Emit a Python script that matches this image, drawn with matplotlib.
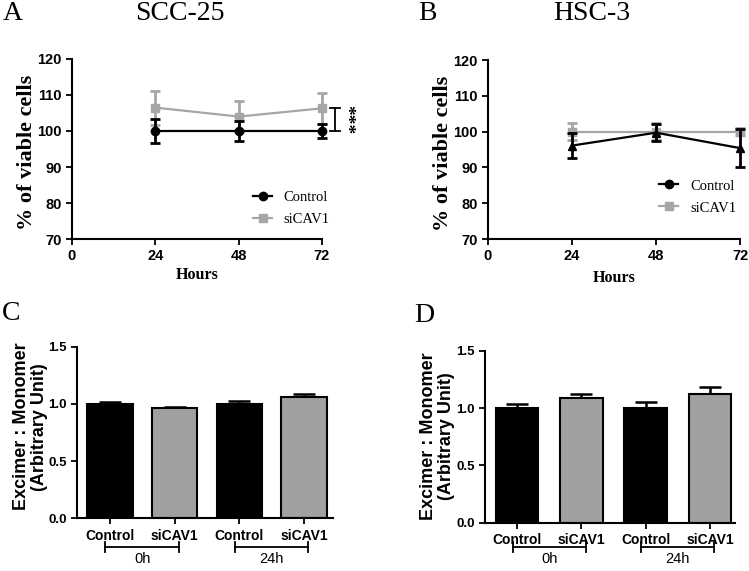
import matplotlib
matplotlib.use("Agg")
import matplotlib.pyplot as plt
from matplotlib.lines import Line2D

# ---------------- data ----------------
hours = [24, 48, 72]
x_ticks_hours = [0, 24, 48, 72]
y_ticks_viab = [70, 80, 90, 100, 110, 120]

scc_control = [100.0, 100.0, 100.0]
scc_control_err = [3.3, 2.7, 1.9]
scc_sicav1 = [106.5, 104.0, 106.3]
scc_sicav1_err = [4.7, 4.2, 4.3]

hsc_control = [96.1, 99.7, 95.4]
hsc_control_err = [3.4, 2.3, 5.3]
hsc_sicav1 = [100.0, 100.0, 100.0]
hsc_sicav1_err = [2.3, 2.3, 1.0]

bar_labels = ["Control", "siCAV1", "Control", "siCAV1"]
group_labels = ["0h", "24h"]
y_ticks_ratio = [0.0, 0.5, 1.0, 1.5]

c_values = [1.00, 0.962, 1.00, 1.063]
c_err = [0.014, 0.014, 0.028, 0.026]
d_values = [1.00, 1.088, 1.00, 1.126]
d_err = [0.038, 0.038, 0.053, 0.059]

BLACK = "#000000"
GRAY = "#a6a6a6"
BARGRAY = "#a0a0a0"
SERIF = "Liberation Serif"
SANS = "Liberation Sans"

fig = plt.figure(figsize=(7.49, 5.71), dpi=100)

def style_axes(ax):
    for s in ["top", "right"]:
        ax.spines[s].set_visible(False)
    for s in ["left", "bottom"]:
        ax.spines[s].set_linewidth(1.5)
    ax.tick_params(direction="out", width=1.3, length=4)
    for lab in ax.get_xticklabels() + ax.get_yticklabels():
        lab.set_fontfamily(SANS)
        lab.set_fontweight("bold")

def line_panel(ax, ctrl, ctrl_err, sic, sic_err, ctrl_marker, legend_pos, ylab_x, xlab_y):
    ax.errorbar(hours, sic, yerr=sic_err, color=GRAY, marker="s", markersize=6,
                lw=1.6, elinewidth=2, capsize=3.5, capthick=2, clip_on=False, zorder=2)
    ax.errorbar(hours, ctrl, yerr=ctrl_err, color=BLACK, marker=ctrl_marker, markersize=6,
                lw=1.6, elinewidth=2, capsize=3.5, capthick=2, clip_on=False, zorder=3)
    ax.set_xlim(0, 72)
    ax.set_ylim(70, 120)
    ax.set_xticks(x_ticks_hours)
    ax.set_yticks(y_ticks_viab)
    ax.tick_params(labelsize=10.5)
    style_axes(ax)
    ax.set_ylabel("% of viable cells", fontfamily=SERIF, fontweight="bold", fontsize=16)
    ax.yaxis.set_label_coords(ylab_x, 0.48)
    ax.set_xlabel("Hours", fontfamily=SERIF, fontweight="bold", fontsize=11.5)
    ax.xaxis.set_label_coords(0.5, xlab_y)
    handles = [Line2D([], [], color=BLACK, marker="o", markersize=6, lw=1.6),
               Line2D([], [], color=GRAY, marker="s", markersize=6, lw=1.6)]
    ax.legend(handles, ["Control", "siCAV1"], loc="center left", bbox_to_anchor=legend_pos,
              frameon=False, handlelength=1.3, handletextpad=0.8, labelspacing=0.6,
              borderpad=0, borderaxespad=0, prop={"family": SERIF, "size": 10.5})

# Panel A
axA = fig.add_axes([0.0961, 0.5814, 0.3338, 0.3153])
line_panel(axA, scc_control, scc_control_err, scc_sicav1, scc_sicav1_err, "o",
           (0.725, 0.17), -0.138, -0.155)
# significance bracket
xb = 75.8
axA.plot([xb, xb], [scc_control[-1], scc_sicav1[-1]], color=BLACK, lw=1.3, clip_on=False)
axA.plot([xb - 1.4, xb + 1.4], [scc_control[-1], scc_control[-1]], color=BLACK, lw=1.3, clip_on=False)
axA.plot([xb - 1.4, xb + 1.4], [scc_sicav1[-1], scc_sicav1[-1]], color=BLACK, lw=1.3, clip_on=False)
axA.text(xb + 3.0, (scc_control[-1] + scc_sicav1[-1]) / 2, "***", rotation=-90,
         ha="center", va="center", fontsize=14, fontfamily=SERIF, fontweight="bold")

# Panel B
axB = fig.add_axes([0.6515, 0.5814, 0.3365, 0.3135])
line_panel(axB, hsc_control, hsc_control_err, hsc_sicav1, hsc_sicav1_err, "^",
           (0.68, 0.235), -0.14, -0.173)

def bar_panel(ax, vals, errs, width, xlim, ylab_x, ylab_y, lab_pad, br_y, grp_y):
    xs = list(range(len(vals)))
    colors = [BLACK, BARGRAY, BLACK, BARGRAY]
    ax.bar(xs, vals, width=width, color=colors, edgecolor=BLACK, linewidth=1.5, zorder=2)
    ax.errorbar(xs, vals, yerr=[[0] * len(errs), errs], fmt="none", ecolor=BLACK,
                elinewidth=1.8, capsize=8, capthick=1.8, zorder=1)
    ax.set_xlim(*xlim)
    ax.set_ylim(0, 1.5)
    ax.set_yticks(y_ticks_ratio)
    ax.set_yticklabels([f"{v:.1f}" for v in y_ticks_ratio])
    ax.set_xticks(xs)
    ax.set_xticklabels(bar_labels)
    ax.tick_params(axis="x", length=0, pad=lab_pad, labelsize=10)
    ax.tick_params(axis="y", labelsize=9.5)
    style_axes(ax)
    ax.set_ylabel("Excimer : Monomer\n(Arbitrary Unit)", fontfamily=SANS, fontweight="bold",
                  fontsize=13, linespacing=1.05)
    ax.yaxis.set_label_coords(ylab_x, ylab_y)
    tr = ax.get_xaxis_transform()
    for g, (x0, x1) in enumerate([(-0.07, 1.07), (1.93, 3.07)]):
        ax.plot([x0, x1], [br_y, br_y], color=BLACK, lw=1.3, transform=tr, clip_on=False)
        for xe in (x0, x1):
            ax.plot([xe, xe], [br_y - 0.03, br_y + 0.03], color=BLACK, lw=1.3,
                    transform=tr, clip_on=False)
        ax.text((x0 + x1) / 2, grp_y, group_labels[g], transform=tr, ha="center", va="top",
                fontfamily=SANS, fontsize=10.5)

# Panel C
axC = fig.add_axes([0.1028, 0.0923, 0.3418, 0.3005])
bar_panel(axC, c_values, c_err, 0.70, (-0.51, 3.45), -0.113, 0.534, 4, -0.166, -0.195)

# Panel D
axD = fig.add_axes([0.6475, 0.0846, 0.3338, 0.3007])
bar_panel(axD, d_values, d_err, 0.66, (-0.50, 3.39), -0.12, 0.505, 3.5, -0.14, -0.17)

# panel letters and titles
fig.text(0.003, 1 - 14 / 571, "A", fontfamily=SERIF, fontsize=20, va="center", ha="left")
fig.text(180 / 749, 1 - 14 / 571, "SCC-25", fontfamily=SERIF, fontsize=20, va="center", ha="center")
fig.text(427 / 749, 1 - 14 / 571, "B", fontfamily=SERIF, fontsize=20, va="center", ha="center")
fig.text(592 / 749, 1 - 14 / 571, "HSC-3", fontfamily=SERIF, fontsize=20, va="center", ha="center")
fig.text(11 / 749, 1 - 314 / 571, "C", fontfamily=SERIF, fontsize=20, va="center", ha="center")
fig.text(424 / 749, 1 - 316 / 571, "D", fontfamily=SERIF, fontsize=20, va="center", ha="center")

fig.savefig("out.png", dpi=100)
